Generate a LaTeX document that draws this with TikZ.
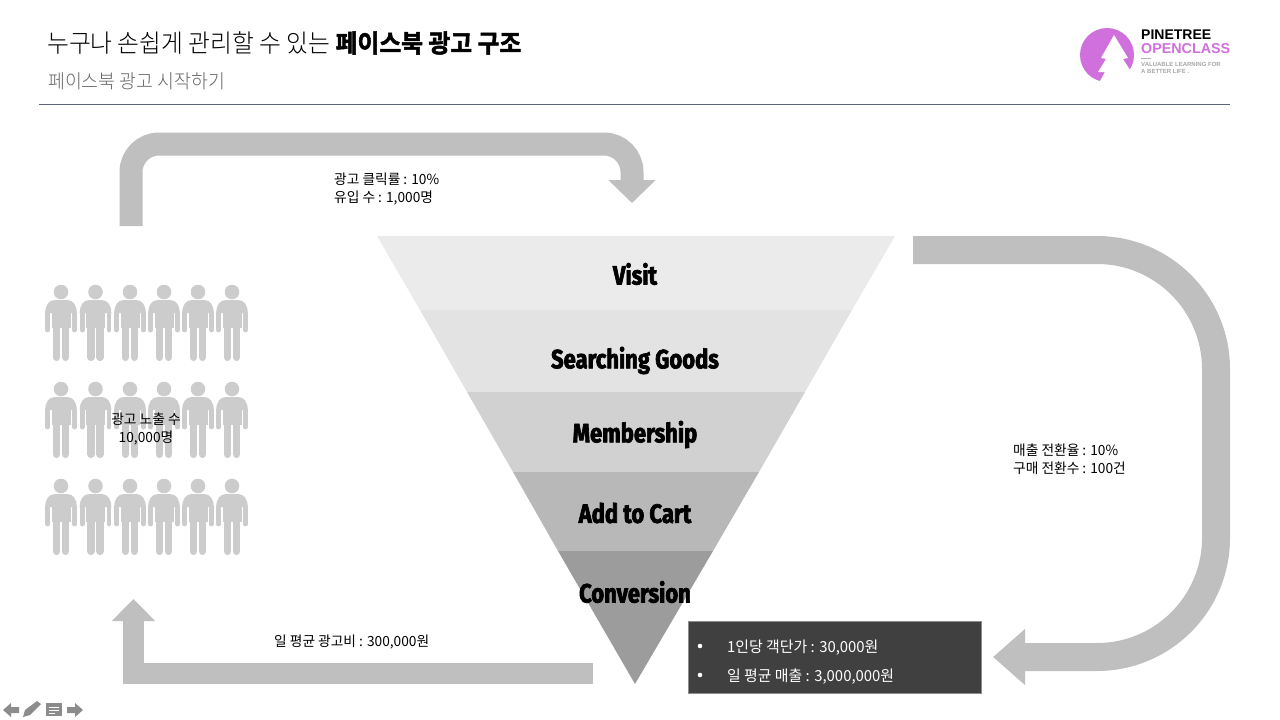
\documentclass[tikz,border=0pt]{standalone}
\usepackage{fontspec}
\usepackage{amsmath}
\usetikzlibrary{arrows.meta}
\setmainfont[FakeStretch=0.95,BoldFont={Noto Sans CJK KR Bold},BoldFeatures={FakeBold=2}]{Noto Sans CJK KR Light}
\newfontfamily\regfont[FakeStretch=0.98]{Noto Sans CJK KR}
\newfontfamily\labelfont[FakeStretch=0.83,FakeBold=2.5]{Fira Sans Bold}
\newfontfamily\logofont{Liberation Sans}
\definecolor{bargray}{HTML}{BFBFBF}
\definecolor{mangray}{HTML}{CCCCCC}
\definecolor{logopink}{HTML}{D070DC}
\definecolor{navgray}{HTML}{8C8C8C}
\definecolor{rulegray}{HTML}{5B6475}
\tikzset{
    bigarrow/.style={draw=bargray,line width=23pt},
    small/.style={font=\regfont\fontsize{14}{18}\selectfont,align=left,inner sep=0pt},
    funnellabel/.style={font=\labelfont\fontsize{26.5}{28}\selectfont,inner sep=0pt},
    boxtext/.style={font=\regfont\fontsize{15.2}{18}\selectfont,text=white,anchor=west,inner sep=0pt},
    person/.pic={
        \fill[mangray] (0,-69) circle (7.3);
        \fill[mangray] (-15.8,-48) .. controls (-15.8,-56) and (-12,-61) .. (-6,-61) -- (6,-61) .. controls (12,-61) and (15.8,-56) .. (15.8,-48) -- cycle;
        \fill[mangray] (-9.5,-50) rectangle (9.5,-33);
        \draw[mangray,line width=4.8pt,line cap=round] (-13.4,-31) -- (-13.4,-48);
        \draw[mangray,line width=4.8pt,line cap=round] (13.4,-31) -- (13.4,-48);
        \draw[mangray,line width=7.5pt,line cap=round] (-4.6,-3.7) -- (-4.6,-36);
        \draw[mangray,line width=7.5pt,line cap=round] (4.6,-3.7) -- (4.6,-36);
    }
}
\begin{document}
\begin{tikzpicture}[x=1pt,y=-1pt]
    \useasboundingbox (0,0) rectangle (1280,720);

    % heading
    \node (title) [anchor=west,inner sep=0pt,font=\fontsize{25}{30}\selectfont] at (47,43) {누구나 손쉽게 관리할 수 있는 \textbf{페이스북 광고 구조}};
    \node (subtitle) [anchor=west,inner sep=0pt,text=black!60,font=\fontsize{19.3}{24}\selectfont] at (48,81) {페이스북 광고 시작하기};
    \coordinate (ruleL) at (39,104.5);
    \coordinate (ruleR) at (1230,104.5);
    \draw[rulegray] (ruleL) -- (ruleR);

    % logo
    \fill[logopink] (1107,55) circle (27);
    \fill[white] (1114,35) -- (1128,58) -- (1123,59) -- (1130,70) -- (1140,90) -- (1100,90) -- (1100,81) -- (1105,72) -- (1098,72) -- (1106,59) -- (1101,58) -- cycle;
    \node (logoA) [anchor=west,inner sep=0pt,font=\logofont\bfseries\fontsize{14}{16}\selectfont] at (1141,35) {PINETREE};
    \node (logoB) [anchor=west,inner sep=0pt,text=logopink,font=\logofont\bfseries\fontsize{14.3}{16}\selectfont] at (1141,49) {OPENCLASS};
    \node (logoC) [anchor=west,inner sep=0pt,align=left,text=black!35,font=\logofont\bfseries\fontsize{6}{7}\selectfont] at (1141,68) {VALUABLE LEARNING FOR\\A BETTER LIFE .};
    \fill[black!30] (1141,58) rectangle (1151,59);

    % funnel
    \fill[black!8] (377,236) -- (895,236) -- (852,310) -- (420,310) -- cycle;
    \fill[black!11] (420,310) -- (852,310) -- (805,392) -- (467,392) -- cycle;
    \fill[black!18] (467,392) -- (805,392) -- (759,472) -- (513,472) -- cycle;
    \fill[black!28] (513,472) -- (759,472) -- (713,551) -- (558,551) -- cycle;
    \fill[black!39] (558,551) -- (713,551) -- (635,684) -- cycle;
    \node (visit) [funnellabel] at (635,274) {Visit};
    \node (searching) [funnellabel] at (635,360.5) {Searching Goods};
    \node (member) [funnellabel] at (635,434.5) {Membership};
    \node (cart) [funnellabel] at (635,513) {Add to Cart};
    \node (conv) [funnellabel] at (635,592) {Conversion};

    % block arrows
    \coordinate (topA) at (131,226);
    \coordinate (topB) at (632,203);
    \coordinate (rightA) at (913,250);
    \coordinate (rightB) at (993,657);
    \coordinate (lowA) at (593,673.5);
    \coordinate (lowB) at (133.5,599);
    \draw[bigarrow,rounded corners=28pt,-{Triangle[length=23pt,width=46pt]}] (topA) |- (382,144) -| (topB);
    \draw[bigarrow,line width=28pt,rounded corners=119pt,-{Triangle[length=32pt,width=54pt]}] (rightA) -| (1216,657) -- (rightB);
    \draw[bigarrow,line width=21pt,-{Triangle[length=22pt,width=42pt]}] (lowA) -| (lowB);

    % texts beside the arrows
    \node (clicks) [small,anchor=west] at (334,189) {광고 클릭률 : 10\%\\유입 수 : 1,000명};
    \node (buys) [small,anchor=west] at (1013,459.5) {매출 전환율 : 10\%\\구매 전환수 : 100건};
    \node (spend) [small,anchor=west] at (274,642) {일 평균 광고비 : 300,000원};

    % people
    \begin{scope}
        \pic at (61,361) {person};
        \pic at (95.5,361) {person};
        \pic at (130,361) {person};
        \pic at (164,361) {person};
        \pic at (198,361) {person};
        \pic at (232,361) {person};
        \pic at (61,458) {person};
        \pic at (95.5,458) {person};
        \pic at (130,458) {person};
        \pic at (164,458) {person};
        \pic at (198,458) {person};
        \pic at (232,458) {person};
        \pic at (61,555) {person};
        \pic at (95.5,555) {person};
        \pic at (130,555) {person};
        \pic at (164,555) {person};
        \pic at (198,555) {person};
        \pic at (232,555) {person};
    \end{scope}
    \node (reach) [small,align=center] at (146,429) {광고 노출 수\\10,000명};

    % dark box
    \node (box) [fill=black!75,draw=black!45,anchor=north west,minimum width=293pt,minimum height=72pt,inner sep=0pt] at (688,621) {};
    \fill[white] (700,646) circle (2.3);
    \fill[white] (700,675) circle (2.3);
    \node (price) [boxtext] at (727,647.5) {1인당 객단가 : 30,000원};
    \node (sales) [boxtext] at (727,676.5) {일 평균 매출 : 3,000,000원};

    % nav icons
    \fill[navgray] (3,710) -- (11,703) -- (11,707) -- (19,707) -- (19,713) -- (11,713) -- (11,717) -- cycle;
    \fill[navgray] (23,717) -- (25,710) -- (37,701) -- (41,704) -- (30,715) -- cycle;
    \fill[navgray] (46,703) rectangle (62,716);
    \draw[white] (49,707) -- (59,707) (49,710) -- (59,710) (49,713) -- (55,713);
    \fill[navgray] (83,710) -- (75,703) -- (75,707) -- (67,707) -- (67,713) -- (75,713) -- (75,717) -- cycle;
\end{tikzpicture}
\end{document}
